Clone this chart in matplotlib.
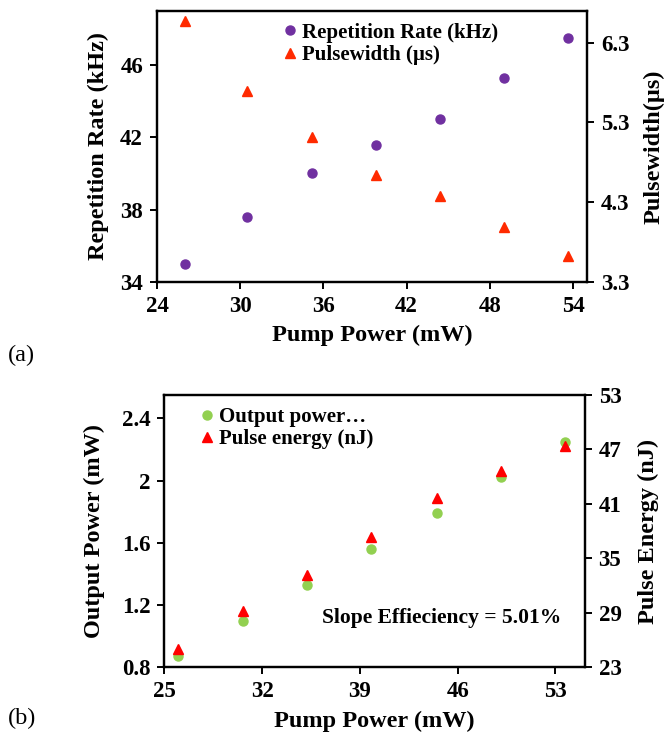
import numpy as np
import matplotlib
matplotlib.use("Agg")
import matplotlib.pyplot as plt

plt.rcParams['font.family'] = ['Liberation Serif', 'DejaVu Serif']
plt.rcParams['font.weight'] = 'bold'

# (a) repetition rate and pulse width vs pump power
pump_a = [26.0, 30.5, 35.2, 39.8, 44.4, 49.0, 53.6]
rep_rate = [35.0, 37.6, 40.0, 41.6, 43.0, 45.3, 47.5]
pulsewidth = [6.57, 5.69, 5.12, 4.64, 4.38, 3.99, 3.62]

# (b) output power and pulse energy vs pump power
pump_b = [26.0, 30.6, 35.2, 39.8, 44.5, 49.1, 53.7]
out_power = [0.87, 1.10, 1.33, 1.56, 1.79, 2.02, 2.25]
pulse_energy = [25.0, 29.2, 33.2, 37.4, 41.6, 44.6, 47.4]

purple = '#7030A0'
orange_red = '#FF2A00'
green = '#92D050'
red = '#FF0000'
tick_fs = 16.5
lab_fs = 17.5
leg_fs = 15


def style(ax):
    for s in ax.spines.values():
        s.set_linewidth(1.6)
    ax.tick_params(direction='out', length=5, width=1.4, labelsize=tick_fs, pad=5)
    for lab in ax.get_xticklabels() + ax.get_yticklabels():
        lab.set_fontweight('bold')


fig = plt.figure(figsize=(6.64, 7.46), dpi=100)

# ---- panel (a)
ax1 = fig.add_axes([0.2364, 0.622, 0.6476, 0.3637])
ax1b = ax1.twinx()
h1, = ax1.plot(pump_a, rep_rate, 'o', color=purple, ms=6.5, label='Repetition Rate (kHz)')
h2, = ax1b.plot(pump_a, pulsewidth, '^', color=orange_red, ms=6.5, label='Pulsewidth (µs)')
ax1.set_xlim(24, 55)
ax1.set_xticks([24, 30, 36, 42, 48, 54])
ax1.set_ylim(34, 49)
ax1.set_yticks([34, 38, 42, 46])
ax1b.set_ylim(3.3, 6.7)
ax1b.set_yticks([3.3, 4.3, 5.3, 6.3])
ax1b.set_yticklabels(['3.3', '4.3', '5.3', '6.3'])
ax1.set_xlabel('Pump Power (mW)', fontsize=lab_fs, fontweight='bold', labelpad=6)
ax1.set_ylabel('Repetition Rate (kHz)', fontsize=lab_fs, fontweight='bold', labelpad=8)
ax1b.set_ylabel('Pulsewidth(µs)', fontsize=lab_fs, fontweight='bold', labelpad=10)
style(ax1)
style(ax1b)
ax1b.legend(handles=[h1, h2], loc='upper left', bbox_to_anchor=(0.24, 1.025),
            frameon=False, handletextpad=0.0, handlelength=1.1,
            labelspacing=0.12, prop={'weight': 'bold', 'size': leg_fs})
fig.text(0.012, 0.524, '(a)', fontsize=lab_fs, fontweight='normal', va='center')

# ---- panel (b)
ax2 = fig.add_axes([0.2476, 0.1055, 0.633, 0.365])
ax2b = ax2.twinx()
g1, = ax2.plot(pump_b, out_power, 'o', color=green, ms=6.5, label='Output power…')
g2, = ax2b.plot(pump_b, pulse_energy, '^', color=red, ms=6.5, label='Pulse energy (nJ)')
ax2.set_xlim(25, 55.1)
ax2.set_xticks([25, 32, 39, 46, 53])
ax2.set_ylim(0.8, 2.55)
ax2.set_yticks([0.8, 1.2, 1.6, 2.0, 2.4])
ax2.set_yticklabels(['0.8', '1.2', '1.6', '2', '2.4'])
ax2b.set_ylim(23, 53)
ax2b.set_yticks([23, 29, 35, 41, 47, 53])
ax2.set_xlabel('Pump Power (mW)', fontsize=lab_fs, fontweight='bold', labelpad=6)
ax2.set_ylabel('Output Power (mW)', fontsize=lab_fs, fontweight='bold', labelpad=12)
ax2b.set_ylabel('Pulse Energy (nJ)', fontsize=lab_fs, fontweight='bold', labelpad=12)
style(ax2)
style(ax2b)
ax2b.legend(handles=[g1, g2], loc='upper left', bbox_to_anchor=(0.03, 1.025),
            frameon=False, handletextpad=0.0, handlelength=1.1,
            labelspacing=0.12, prop={'weight': 'bold', 'size': leg_fs})
ax2.text(0.945, 0.18, 'Slope Effieciency = 5.01%', transform=ax2.transAxes,
         ha='right', va='center', fontsize=15.5, fontweight='bold')
fig.text(0.012, 0.037, '(b)', fontsize=lab_fs, fontweight='normal', va='center')

fig.savefig('out.png', dpi=100)
